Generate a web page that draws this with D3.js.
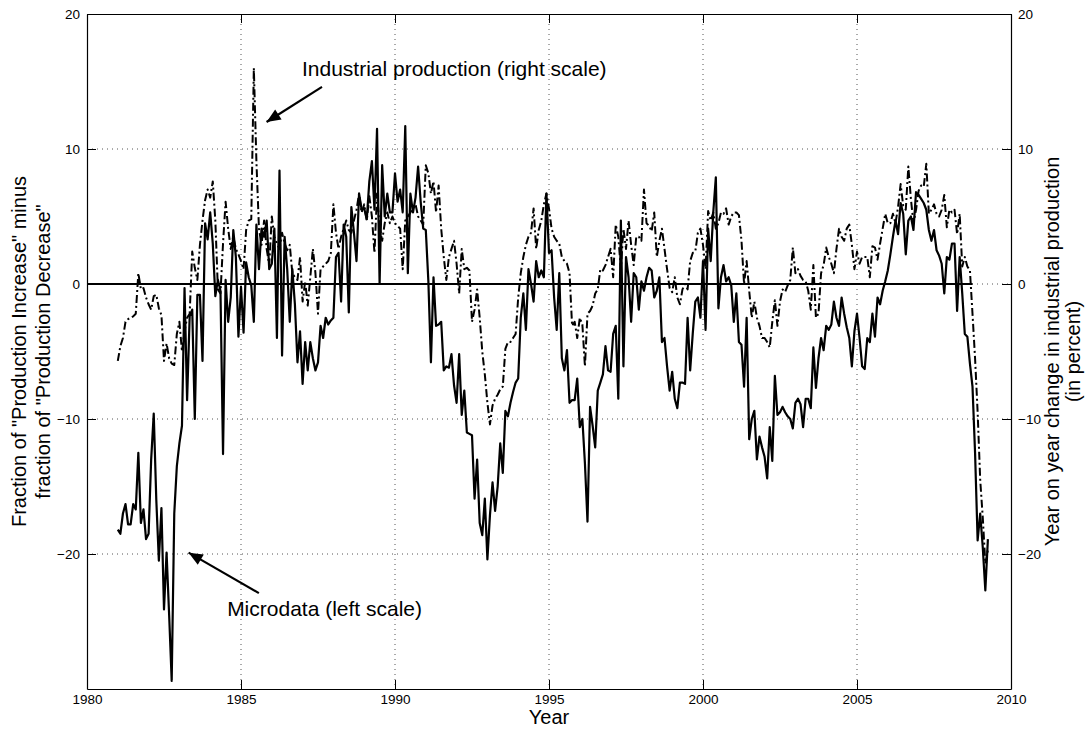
<!DOCTYPE html>
<html><head><meta charset="utf-8">
<script src="https://cdn.jsdelivr.net/npm/d3@7"></script>
<style>
body{margin:0;background:#fff}
svg{display:block}
text{font-family:"Liberation Sans", Arial, Helvetica, sans-serif;fill:#000}
</style>
</head><body>
<svg id="c" width="1088" height="732"></svg>
<script>
// ---------- data (monthly, first month = Jan 1981) ----------
const startYear = 1981;
const microValues = [
 -18.2,-18.5,-17.0,-16.3,-17.8,-17.8,-16.3,-16.7,-12.5,-17.7,-16.7,-18.9,
 -18.5,-13.0,-9.6,-16.0,-20.5,-16.6,-24.1,-19.9,-24.5,-29.4,-17.0,-13.5,
 -11.8,-10.5,-0.3,-8.6,-2.4,-1.9,-10.0,-0.8,-0.8,-5.7,4.5,3.3,
 5.3,3.0,-0.9,0.3,-0.5,-12.6,0.3,-2.8,-1.0,4.0,2.0,-3.9,
 -0.2,-3.6,1.6,0.5,-0.1,-2.8,4.4,1.1,4.1,3.5,4.7,1.1,
 1.5,4.1,-4.0,8.4,-5.3,3.5,1.1,-2.8,1.1,-1.5,-5.8,-3.5,
 -7.4,-4.3,-6.4,-4.3,-5.5,-6.4,-5.8,-3.1,-4.0,-2.5,-3.0,-2.7,
 -2.5,2.0,2.3,-1.3,4.4,3.5,-2.1,5.7,3.8,1.7,6.7,5.5,
 5.6,4.8,7.6,9.1,5.5,11.5,0.0,8.8,5.0,6.7,5.3,5.3,
 8.2,6.1,7.0,5.3,11.7,0.8,6.7,5.3,6.4,8.7,6.1,4.1,
 4.0,0.2,-5.8,0.5,-3.1,-3.0,-2.8,-6.4,-6.1,-6.2,-5.2,-7.5,
 -8.8,-5.2,-9.7,-7.9,-11.0,-11.1,-11.2,-15.9,-13.0,-17.7,-18.6,-15.9,
 -20.4,-17.1,-14.7,-16.8,-15.0,-11.8,-14.0,-9.4,-9.8,-8.8,-8.0,-7.3,
 -7.0,-2.5,-0.7,-3.4,1.1,0.0,-1.3,1.7,0.5,1.0,0.5,6.7,
 2.3,2.5,-1.0,-3.4,0.8,-5.5,-6.4,-4.9,-8.8,-8.6,-8.6,-7.0,
 -10.6,-10.0,-13.3,-17.6,-9.1,-10.5,-12.1,-7.9,-7.3,-6.7,-4.6,-6.4,
 -6.5,-3.7,-3.1,-8.5,4.7,-6.1,2.0,0.5,-2.8,0.8,0.5,-1.9,
 0.2,-0.5,0.5,1.2,1.0,-1.0,-0.5,0.5,-4.3,-4.0,-6.1,-7.9,
 -6.5,-8.5,-9.2,-7.3,-7.3,-7.4,-2.5,-6.4,-3.7,-1.3,-1.0,-2.5,
 1.7,-3.4,4.1,1.7,5.3,7.9,-1.8,0.5,1.4,0.2,0.5,-0.1,
 -2.8,-0.7,-4.3,-4.5,-7.6,-2.5,-11.5,-10.0,-9.4,-13.0,-11.3,-12.1,
 -12.8,-14.4,-10.6,-13.1,-6.8,-9.7,-9.5,-9.1,-9.5,-9.8,-10.0,-10.7,
 -8.8,-8.5,-8.9,-10.6,-8.5,-8.5,-9.2,-4.7,-7.7,-5.5,-4.0,-4.9,
 -3.1,-3.4,-3.0,-1.3,-2.5,-3.1,-1.0,-2.2,-3.2,-4.0,-6.1,-3.5,
 -2.2,-4.0,-6.1,-6.3,-4.0,-4.3,-2.2,-3.9,-1.0,-1.5,-0.5,0.2,
 1.0,2.2,3.5,4.7,3.7,6.0,5.2,2.2,4.7,5.0,4.0,6.8,
 6.6,6.3,6.0,5.5,4.0,3.2,4.0,2.5,2.1,1.5,-0.7,2.0,
 1.8,3.0,3.0,-2.0,2.0,-0.7,-3.7,-3.9,-5.9,-7.6,-12.5,-19.0,
 -17.0,-19.5,-22.7,-18.9
];
const ipValues = [
 -5.7,-4.6,-4.0,-2.8,-2.6,-2.5,-2.4,-2.2,0.8,-0.4,-0.3,-1.0,
 -1.5,-1.9,-0.9,-0.8,-1.8,-2.3,-5.7,-4.4,-5.5,-5.9,-6.0,-3.7,
 -2.8,-5.0,-3.5,-2.5,-2.2,2.4,1.2,0.3,2.9,4.7,6.2,7.0,
 6.4,7.6,4.7,-0.4,-0.7,3.0,6.1,4.1,2.6,3.5,2.6,2.2,
 1.7,1.1,4.0,4.7,4.8,16.0,9.1,4.1,2.9,4.7,2.6,1.4,
 5.0,3.5,3.0,2.6,3.8,3.0,2.5,2.9,0.8,0.5,0.3,2.0,
 -1.3,0.2,-1.6,0.5,2.6,0.8,-2.2,1.1,1.3,1.5,1.7,2.3,
 5.9,3.8,2.6,3.5,4.1,4.7,4.0,3.8,4.7,5.5,6.7,5.3,
 5.9,4.7,6.5,5.0,2.3,6.7,4.2,3.2,4.5,5.3,4.5,5.0,
 4.5,4.3,4.1,1.1,4.7,5.0,5.3,5.6,5.9,5.0,4.7,4.4,
 8.8,8.2,6.7,7.6,5.3,7.3,4.1,2.0,0.3,2.0,2.6,3.2,
 1.5,-0.7,2.6,1.1,1.2,1.0,-2.8,-1.9,-0.4,-2.5,-5.0,-6.7,
 -8.8,-10.4,-9.0,-8.5,-8.2,-7.8,-7.6,-4.8,-4.3,-4.3,-4.0,-3.7,
 -1.0,0.8,2.0,2.9,3.5,3.8,5.6,2.6,4.0,4.7,5.9,6.7,
 5.6,4.1,3.5,3.2,3.0,2.0,1.7,1.5,0.8,-3.1,-2.8,-4.0,
 -2.5,-3.0,-6.1,-2.2,-2.0,-1.6,-0.7,-0.4,1.1,1.0,1.4,2.0,
 2.6,0.5,4.4,3.5,1.1,4.1,2.6,4.7,2.9,1.4,3.5,3.5,
 3.2,7.0,4.5,4.3,3.9,5.3,2.0,3.2,4.1,2.6,1.1,-0.3,
 -0.6,0.5,-1.0,-1.5,-0.4,0.0,-0.4,1.7,2.3,2.4,3.8,4.1,
 2.9,1.1,5.4,4.7,5.3,4.1,4.5,5.3,5.2,5.6,4.4,5.0,
 5.3,5.3,5.1,3.2,0.0,1.7,-0.5,-2.5,-1.3,-2.5,-3.1,-4.0,
 -4.0,-4.3,-4.7,-2.8,-1.2,-3.1,-1.3,-0.4,-0.6,-0.1,0.3,2.7,
 0.8,1.1,0.6,0.3,0.2,-0.5,-1.9,1.4,-2.5,-2.2,0.8,1.4,
 2.7,2.0,1.5,0.8,2.6,4.1,3.5,3.2,4.1,4.4,2.9,1.1,
 2.4,1.5,2.0,2.0,2.0,0.5,2.8,2.7,1.8,3.0,4.1,5.2,
 4.5,4.5,5.2,4.5,5.7,7.4,5.8,5.5,8.7,6.3,4.5,5.5,
 6.9,7.3,7.2,8.9,5.2,5.5,5.9,5.2,5.0,5.5,6.6,4.2,
 5.5,5.3,5.5,3.7,5.2,1.3,2.0,1.3,1.0,-2.2,-5.5,-9.5,
 -14.5,-17.3,-20.7,-19.7
];
const xTicks = [1980, 1985, 1990, 1995, 2000, 2005, 2010];
const yTicks = [-20, -10, 0, 10, 20];
const zeroLineSpan = [1980, 2008.75];

// ---------- layout ----------
const L = 87, R = 1011, T = 14, B = 689;
const svg = d3.select('#c');
const x = d3.scaleLinear().domain([1980, 2010]).range([L, R]);
const yL = d3.scaleLinear().domain([-30, 20]).range([B, T]);
const yR = d3.scaleLinear().domain([-30, 20]).range([B, T]);
const dateOf = i => startYear + i / 12;

// grid
const grid = svg.append('g').attr('stroke', '#555').attr('stroke-width', 1).attr('stroke-dasharray', '1,4');
xTicks.filter(t => t > 1980 && t < 2010).forEach(t => {
  grid.append('line').attr('x1', x(t)).attr('x2', x(t)).attr('y1', T).attr('y2', B);
});
yTicks.filter(t => t > -30 && t < 20).forEach(t => {
  grid.append('line').attr('x1', L).attr('x2', R).attr('y1', yL(t)).attr('y2', yL(t));
});

// zero line
svg.append('line')
  .attr('x1', x(zeroLineSpan[0])).attr('x2', x(zeroLineSpan[1]))
  .attr('y1', yL(0)).attr('y2', yL(0))
  .attr('stroke', '#000').attr('stroke-width', 2);

// series
const lineL = d3.line().x((d, i) => x(dateOf(i))).y(d => yL(d));
const lineR = d3.line().x((d, i) => x(dateOf(i))).y(d => yR(d));
svg.append('path').datum(microValues).attr('d', lineL)
  .attr('fill', 'none').attr('stroke', '#000').attr('stroke-width', 2.2)
  .attr('stroke-linejoin', 'round');
svg.append('path').datum(ipValues).attr('d', lineR)
  .attr('fill', 'none').attr('stroke', '#000').attr('stroke-width', 2)
  .attr('stroke-dasharray', '8,3,2,3').attr('stroke-linejoin', 'round');

// axes
function styleAxis(g) {
  g.selectAll('.domain').attr('stroke', '#000').attr('stroke-width', 1.2);
  g.selectAll('.tick line').attr('stroke', '#000').attr('stroke-width', 1);
  g.selectAll('.tick text').style('font-size', '13.5px').attr('fill', '#000');
}
svg.append('g').attr('transform', `translate(0,${B})`)
  .call(d3.axisBottom(x).tickValues(xTicks).tickFormat(d3.format('d')).tickSize(-9).tickSizeOuter(0).tickPadding(5))
  .call(styleAxis);
svg.append('g').attr('transform', `translate(0,${T})`)
  .call(d3.axisTop(x).tickValues(xTicks).tickFormat('').tickSize(-9).tickSizeOuter(0))
  .call(styleAxis);
svg.append('g').attr('transform', `translate(${L},0)`)
  .call(d3.axisLeft(yL).tickValues(yTicks).tickSize(-9).tickSizeOuter(0).tickPadding(7))
  .call(styleAxis);
svg.append('g').attr('transform', `translate(${R},0)`)
  .call(d3.axisRight(yR).tickValues(yTicks).tickSize(-9).tickSizeOuter(0).tickPadding(7))
  .call(styleAxis);

// axis labels
const midY = (T + B) / 2;
function vlabel(cx, str) {
  svg.append('text').attr('transform', `translate(${cx},${midY}) rotate(-90)`)
    .attr('text-anchor', 'middle').attr('dy', '0.35em').style('font-size', '20px').text(str);
}
vlabel(19, 'Fraction of "Production Increase" minus');
vlabel(43, 'fraction of "Production Decrease"');
vlabel(1052, 'Year on year change in industrial production');
vlabel(1073, '(in percent)');
svg.append('text').attr('x', (L + R) / 2).attr('y', 724).attr('text-anchor', 'middle')
  .style('font-size', '20px').text('Year');

// annotations
function arrow(x1, y1, x2, y2) {
  svg.append('line').attr('x1', x1).attr('y1', y1).attr('x2', x2).attr('y2', y2)
    .attr('stroke', '#000').attr('stroke-width', 2.2);
  const a = Math.atan2(y2 - y1, x2 - x1), len = 14, w = 6;
  const bx = x2 - len * Math.cos(a), by = y2 - len * Math.sin(a);
  const px = -Math.sin(a) * w, py = Math.cos(a) * w;
  svg.append('path').attr('d', `M${x2},${y2}L${bx + px},${by + py}L${bx - px},${by - py}Z`).attr('fill', '#000');
}
arrow(x(1987.63), yR(14.6), x(1985.83), yR(12.0));
svg.append('text').attr('x', x(1986.98)).attr('y', yR(15.4)).style('font-size', '21px')
  .text('Industrial production (right scale)');
arrow(x(1985.58), yL(-22.9), x(1983.3), yL(-19.9));
svg.append('text').attr('x', x(1984.55)).attr('y', yL(-24.6)).style('font-size', '21px')
  .text('Microdata (left scale)');
</script>
</body></html>
